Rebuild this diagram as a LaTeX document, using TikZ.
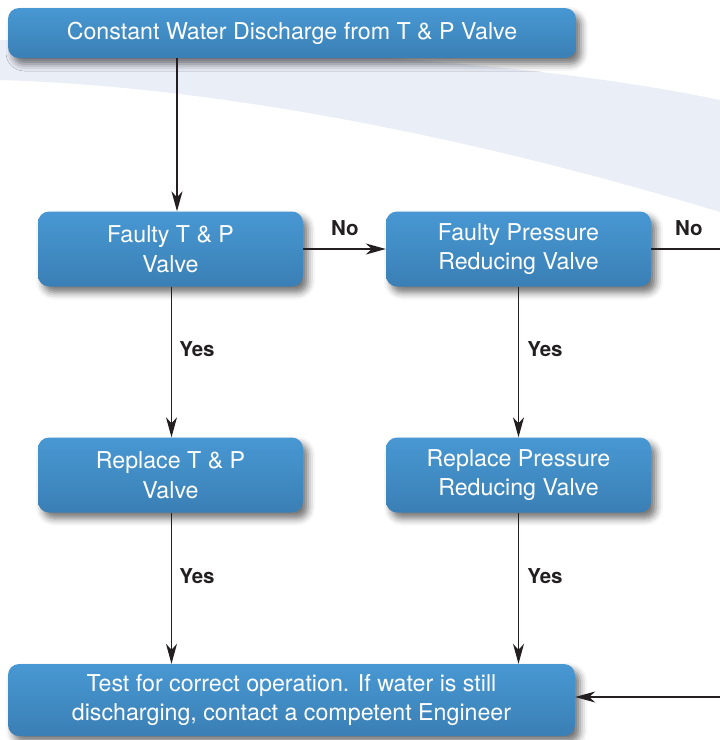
\documentclass[tikz,border=0pt]{standalone}
\usepackage{fontspec}
\setmainfont{TeX Gyre Heros}
\usetikzlibrary{arrows.meta,shadows.blur}
\definecolor{boxtop}{HTML}{4898D3}
\definecolor{boxbot}{HTML}{3A7FB5}
\definecolor{band}{HTML}{EAEEF7}
\definecolor{linec}{HTML}{231F20}
\tikzset{
  flowbox/.style={rounded corners=11pt, top color=boxtop, bottom color=boxbot,
    text=white, align=center, inner sep=0pt,
    font=\fontsize{23.2}{29.5}\selectfont,
    blur shadow={shadow xshift=5pt, shadow yshift=-6pt, shadow blur radius=7pt, shadow opacity=55}},
  smallbox/.style={flowbox, minimum width=265pt, minimum height=75pt},
  arr/.style={draw=linec, line width=1.3pt, -{Stealth[length=20pt, width=11pt, inset=6pt]}},
  plainline/.style={draw=linec, line width=1.3pt},
  lbl/.style={font=\fontsize{20.5}{24}\bfseries\selectfont, text=linec, inner sep=0pt}
}
\begin{document}
\begin{tikzpicture}[x=1pt,y=-1pt]
\useasboundingbox (0,0) rectangle (720,740);
% background swoosh
\fill[band] (0,40) .. controls (250,48) and (520,58) .. (720,100)
  -- (720,212) .. controls (450,130) and (200,86) .. (0,80) -- cycle;

\node[flowbox, minimum width=568pt, minimum height=50pt] (top) at (292,33)
  {Constant Water Discharge from T \& P Valve};
\node[smallbox] (ftp) at (170.5,249) {Faulty T \& P\\Valve};
\node[smallbox] (fpr) at (518.5,249) {Faulty Pressure\\Reducing Valve};
\node[smallbox] (rtp) at (170.5,475) {Replace T \& P\\Valve};
\node[smallbox] (rpr) at (518.5,475) {Replace Pressure\\Reducing Valve};
\node[flowbox, minimum width=567pt, minimum height=72pt] (test) at (291.5,700)
  {Test for correct operation. If water is still\\discharging, contact a competent Engineer};

\coordinate (eout) at (720,249);
\coordinate (ein) at (720,697);

\draw[arr] ([xshift=-115pt]top.south) -- ([xshift=6.5pt]ftp.north);
\draw[arr] (ftp.east) -- (fpr.west);
\draw[plainline] (fpr.east) -- (eout);
\draw[arr] ([xshift=1pt]ftp.south) -- ([xshift=1pt]rtp.north);
\draw[arr] (fpr.south) -- (rpr.north);
\draw[arr] ([xshift=1pt]rtp.south) -- ([xshift=-120pt]test.north);
\draw[arr] (rpr.south) -- ([xshift=227pt]test.north);
\draw[arr] (ein) -- (test.east |- ein);

\node[lbl] (no1) at (345,228) {No};
\node[lbl] (no2) at (689,228) {No};
\node[lbl] (y1) at (197,349) {Yes};
\node[lbl] (y2) at (545,349) {Yes};
\node[lbl] (y3) at (197,576) {Yes};
\node[lbl] (y4) at (545,576) {Yes};
\end{tikzpicture}
\end{document}
